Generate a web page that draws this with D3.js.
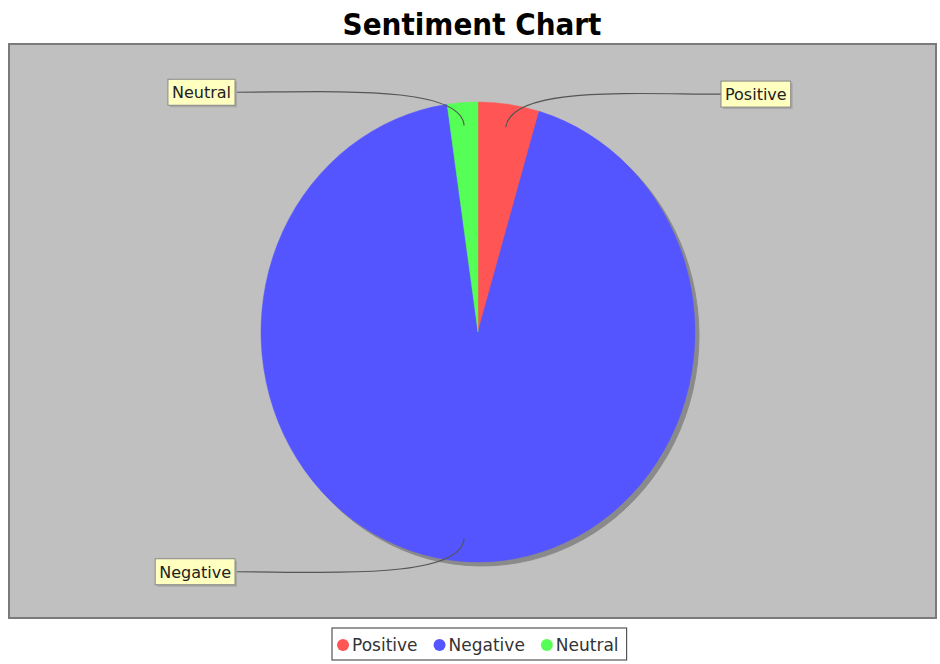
<html>
<head>
  <meta http-equiv='Content-Type' content='text/html;charset=utf-8'>
  <title>Sentiment Chart</title>
  <script src="https://cdn.jsdelivr.net/npm/d3@7/dist/d3.min.js"></script>
  <style type='text/css'>
    body { margin: 0; background: #fff; font-family: 'DejaVu Sans', Tahoma, sans-serif; }
    svg { display: block; }
    .title { font-family: 'DejaVu Sans Condensed', 'DejaVu Sans', sans-serif; font-weight: bold; font-size: 31px; fill: #000; }
    .lbl text { font-size: 16px; fill: #222; }
    .legend text { font-size: 17px; fill: #333; }
  </style>
</head>
<body>
<div id="chart"></div>
<script type='text/javascript'>

var categories = ['Positive', 'Negative', 'Neutral'],
    counts = [2, 41, 1],
    colors = ['#ff5555', '#5555ff', '#55ff55'];

var W = 940, H = 664,
    plot = { x: 9, y: 44, w: 927, h: 574 },
    cx = 478, cy = 332, rx = 217, ry = 230,
    shadowOff = 4,
    labelK = 1.045,
    labelGap = 243;

var svg = d3.select('#chart').append('svg')
    .attr('width', W)
    .attr('height', H);

svg.append('text')
    .attr('class', 'title')
    .attr('x', 472)
    .attr('y', 35)
    .attr('text-anchor', 'middle')
    .text('Sentiment Chart');

// plot area
svg.append('rect')
    .attr('x', plot.x).attr('y', plot.y)
    .attr('width', plot.w).attr('height', plot.h)
    .style('fill', '#c0c0c0')
    .style('stroke', '#7a7a7a')
    .style('stroke-width', 2);

var data = categories.map(function (c, i) { return { name: c, n: counts[i], color: colors[i] }; });

var pie = d3.pie()
    .sort(null)
    .value(function (d) { return d.n; });

var arcs = pie(data);

var arc = d3.arc().innerRadius(0).outerRadius(ry);

// pie is drawn as a circle of radius ry, squashed to rx horizontally
var sx = rx / ry;

var shadow = svg.append('g')
    .attr('transform', 'translate(' + (cx + shadowOff) + ',' + (cy + shadowOff) + ') scale(' + sx + ',1)');
shadow.selectAll('path')
    .data(arcs)
  .enter().append('path')
    .attr('d', arc)
    .style('fill', '#8a8a8a')
    .style('stroke', '#8a8a8a');

var slices = svg.append('g')
    .attr('transform', 'translate(' + cx + ',' + cy + ') scale(' + sx + ',1)');
slices.selectAll('path')
    .data(arcs)
  .enter().append('path')
    .attr('d', arc)
    .style('fill', function (d) { return d.data.color; })
    .style('stroke', function (d) { return d.data.color; })
    .style('stroke-width', 0.5);

function pt(a, k) {
  return [cx + Math.sin(a) * rx * k, cy - Math.cos(a) * ry * k];
}

// labels + links
var labelG = svg.append('g');
arcs.forEach(function (d) {
  var mid = (d.startAngle + d.endAngle) / 2,
      right = Math.sin(mid) > 0,
      anchor = pt(mid, 0.9),
      c1 = pt(mid, 1.08),
      ly = cy - Math.cos(mid) * ry * labelK,
      lx = right ? cx + labelGap : cx - labelGap,
      c2 = [right ? lx - 90 : lx + 90, ly];

  labelG.append('path')
      .attr('d', 'M' + anchor[0] + ',' + anchor[1] +
                 'C' + c1[0] + ',' + c1[1] +
                 ' ' + c2[0] + ',' + c2[1] +
                 ' ' + lx + ',' + ly)
      .style('fill', 'none')
      .style('stroke', '#555')
      .style('stroke-width', 1.2);

  var g = labelG.append('g').attr('class', 'lbl');
  var t = g.append('text')
      .attr('y', ly + 6)
      .text(d.data.name);
  var tw = t.node().getComputedTextLength(),
      bw = tw + 8, bh = 26,
      bx = right ? lx : lx - bw,
      by = ly - bh / 2;
  t.attr('x', bx + 4);
  g.insert('rect', 'text')
      .attr('x', bx + 2).attr('y', by + 2)
      .attr('width', bw).attr('height', bh)
      .style('fill', '#a8a8a8');
  g.insert('rect', 'text')
      .attr('x', bx).attr('y', by)
      .attr('width', bw).attr('height', bh)
      .style('fill', '#ffffc0')
      .style('stroke', '#888')
      .style('stroke-width', 1);
});

// legend
var legend = svg.append('g').attr('class', 'legend');
var lx = 340, lyy = 650;
data.forEach(function (d) {
  legend.append('circle')
      .attr('cx', lx + 3)
      .attr('cy', lyy - 5)
      .attr('r', 6)
      .style('fill', d.color);
  var t = legend.append('text')
      .attr('x', lx + 12)
      .attr('y', lyy + 1)
      .text(d.name);
  lx += 12 + t.node().getComputedTextLength() + 19;
});
legend.insert('rect', 'circle')
    .attr('x', 332).attr('y', 628)
    .attr('width', lx - 332 - 11).attr('height', 32)
    .style('fill', '#fff')
    .style('stroke', '#555')
    .style('stroke-width', 1.2);

</script>
</body>
</html>
